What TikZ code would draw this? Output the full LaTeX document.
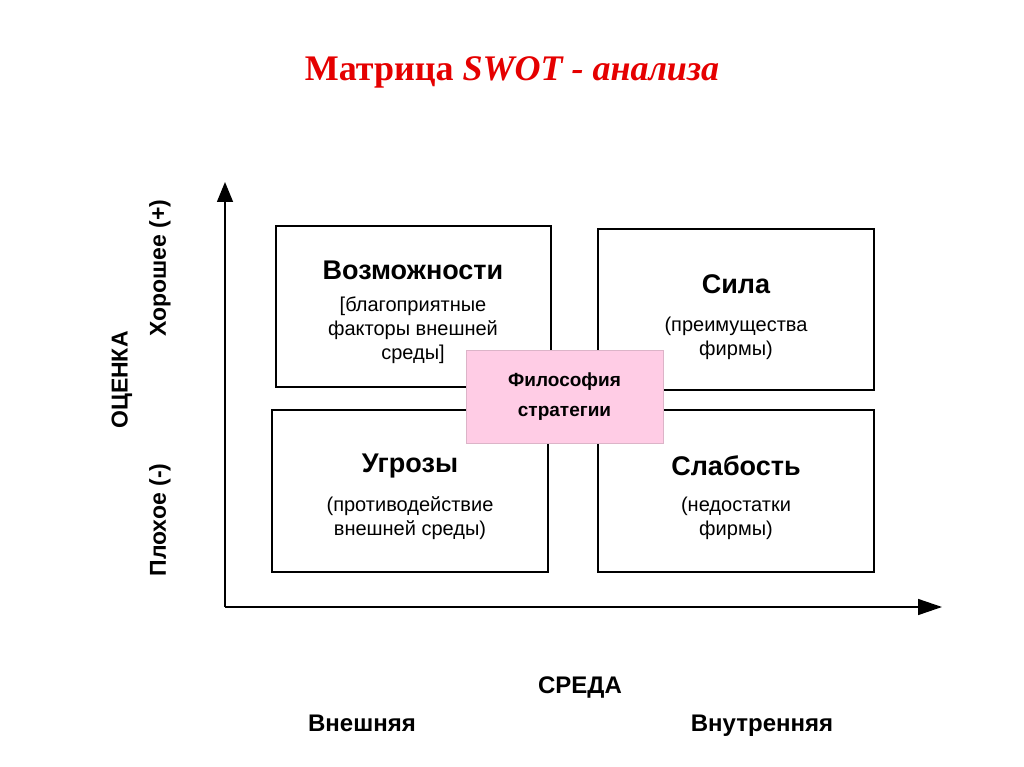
\documentclass[tikz,border=0pt]{standalone}
\usepackage{fontspec}
\setmainfont{Liberation Sans}
\newfontfamily\titlefont{Liberation Serif}
\usetikzlibrary{arrows.meta}
\definecolor{philpink}{RGB}{255,204,229}
\definecolor{philedge}{RGB}{220,180,200}
\begin{document}
\begin{tikzpicture}[x=1pt,y=-1pt,
  cell/.style={draw=black,line width=1.3pt,fill=white},
  head/.style={font=\fontsize{27}{30}\selectfont\bfseries},
  sub/.style={font=\fontsize{20}{24}\selectfont,align=center},
  side/.style={font=\fontsize{23}{26}\selectfont\bfseries,rotate=90},
  axlab/.style={font=\fontsize{24}{26}\selectfont\bfseries,anchor=base}]
\useasboundingbox (0,0) rectangle (1024,767);
\node[text=red!90!black,font=\titlefont\fontsize{36}{40}\selectfont\bfseries] (title) at (512,72) {Матрица \textit{SWOT - анализа}};
\coordinate (o) at (225,607);
\coordinate (ytop) at (225,182);
\coordinate (xend) at (942,607);
\draw[line width=1.5pt,-{Triangle[length=20pt,width=16pt]}] (o) -- (ytop);
\draw[line width=1.5pt,-{Triangle[length=24pt,width=16pt]}] (o) -- (xend);
\node[cell,minimum width=275,minimum height=161] (opp) at (413.5,306.5) {};
\node[cell,minimum width=276,minimum height=161] (str) at (736,309.5) {};
\node[cell,minimum width=276,minimum height=162] (thr) at (410,491) {};
\node[cell,minimum width=276,minimum height=162] (wk) at (736,491) {};
\node[head] (oppt) at (413,270) {Возможности};
\node[sub] (opps) at (413,330) {[благоприятные\\факторы внешней\\среды]};
\node[head] (strt) at (736,284) {Сила};
\node[sub] (strs) at (736,338) {(преимущества\\фирмы)};
\node[head] (thrt) at (410,466) {Угрозы};
\node[sub] (thrs) at (410,518) {(противодействие\\внешней среды)};
\node[head] (wkt) at (736,466) {Слабость};
\node[sub] (wks) at (736,518) {(недостатки\\фирмы)};
\node[draw=philedge,fill=philpink,minimum width=197,minimum height=93,align=center,font=\fontsize{19}{30}\selectfont\bfseries] (phil) at (564.5,396.5) {Философия\\стратегии};
\node[side] (oc) at (122,380) {ОЦЕНКА};
\node[side] (good) at (160,268) {Хорошее (+)};
\node[side] (bad) at (160,520) {Плохое (-)};
\node[axlab] (env) at (580,693) {СРЕДА};
\node[axlab] (ext) at (362,731) {Внешняя};
\node[axlab] (int) at (762,731) {Внутренняя};
\end{tikzpicture}
\end{document}
